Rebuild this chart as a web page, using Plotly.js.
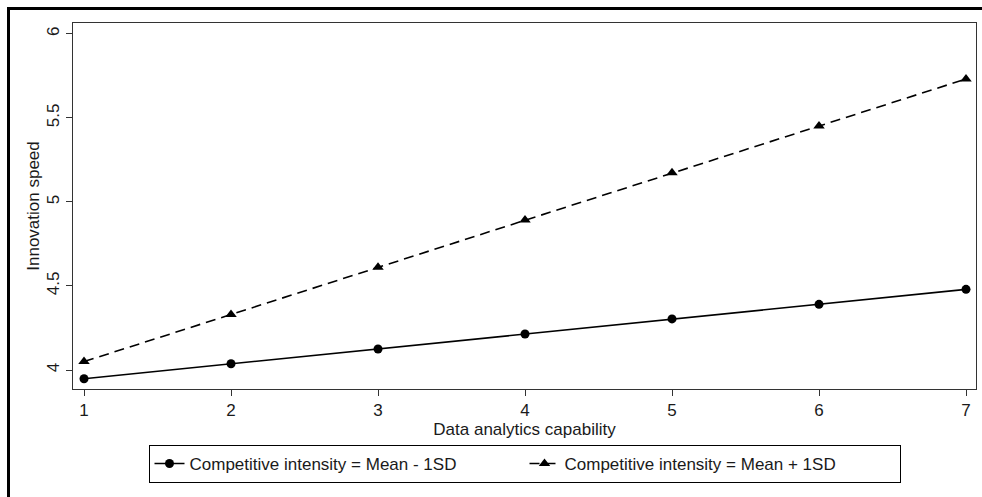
<!DOCTYPE html>
<html>
<head>
<meta charset="utf-8">
<script src="https://cdn.plot.ly/plotly-3.0.1.min.js"></script>
<style>
html,body{margin:0;padding:0;background:#fff;}
#chart{width:982px;height:497px;}
#frame{position:absolute;left:7px;top:7px;width:975px;height:490px;border-left:3px solid #000;border-top:3px solid #000;box-sizing:border-box;pointer-events:none;}
</style>
</head>
<body>
<div id="chart"></div>
<div id="frame"></div>
<script>
const capability = [1, 2, 3, 4, 5, 6, 7];
const speedLow = [3.948, 4.037, 4.125, 4.214, 4.304, 4.391, 4.480];
const speedHigh = [4.050, 4.331, 4.611, 4.893, 5.174, 5.452, 5.732];
const yTicks = [4, 4.5, 5, 5.5, 6];
const yTickText = ['4', '4.5', '5', '5.5', '6'];
const xTicks = [1, 2, 3, 4, 5, 6, 7];
const nameLow = 'Competitive intensity = Mean - 1SD';
const nameHigh = 'Competitive intensity = Mean + 1SD';

const font = {family: 'Liberation Sans, Arial, sans-serif', size: 17, color: '#1a1a1a'};

const traces = [
  {x: capability, y: speedLow, name: nameLow, type: 'scatter', mode: 'lines+markers',
   line: {color: '#000', width: 1.6}, marker: {symbol: 'circle', size: 9, color: '#000'}},
  {x: capability, y: speedHigh, name: nameHigh, type: 'scatter', mode: 'lines+markers',
   line: {color: '#000', width: 1.6, dash: '10px,6px'}, marker: {symbol: 'triangle-up', size: 10, color: '#000'}}
];

const layout = {
  width: 982, height: 497,
  margin: {l: 73, r: 6, t: 23, b: 108},
  paper_bgcolor: '#fff', plot_bgcolor: '#fff',
  font: font,
  showlegend: true,
  xaxis: {
    range: [0.925, 7.068], tickvals: xTicks, ticks: 'outside', ticklen: 6, tickcolor: '#333',
    showline: true, linecolor: '#333', linewidth: 1, mirror: true, showgrid: false, zeroline: false,
    tickfont: font, automargin: false,
    title: {text: 'Data analytics capability', font: font, standoff: 0}
  },
  yaxis: {
    range: [3.887, 6.065], tickvals: yTicks, ticktext: yTickText, tickangle: -90,
    ticks: 'outside', ticklen: 6, tickcolor: '#333',
    showline: true, linecolor: '#333', linewidth: 1, mirror: true, showgrid: false, zeroline: false,
    tickfont: font, automargin: false,
    title: {text: 'Innovation speed', font: font, standoff: 0}
  },
  legend: {
    orientation: 'h', x: 0.5, xanchor: 'center', y: -0.153, yanchor: 'top',
    bordercolor: '#000', borderwidth: 1, font: font, entrywidth: 330, entrywidthmode: 'pixels',
    bgcolor: '#fff'
  }
};

Plotly.newPlot('chart', traces, layout, {displayModeBar: false, staticPlot: true});
</script>
</body>
</html>
